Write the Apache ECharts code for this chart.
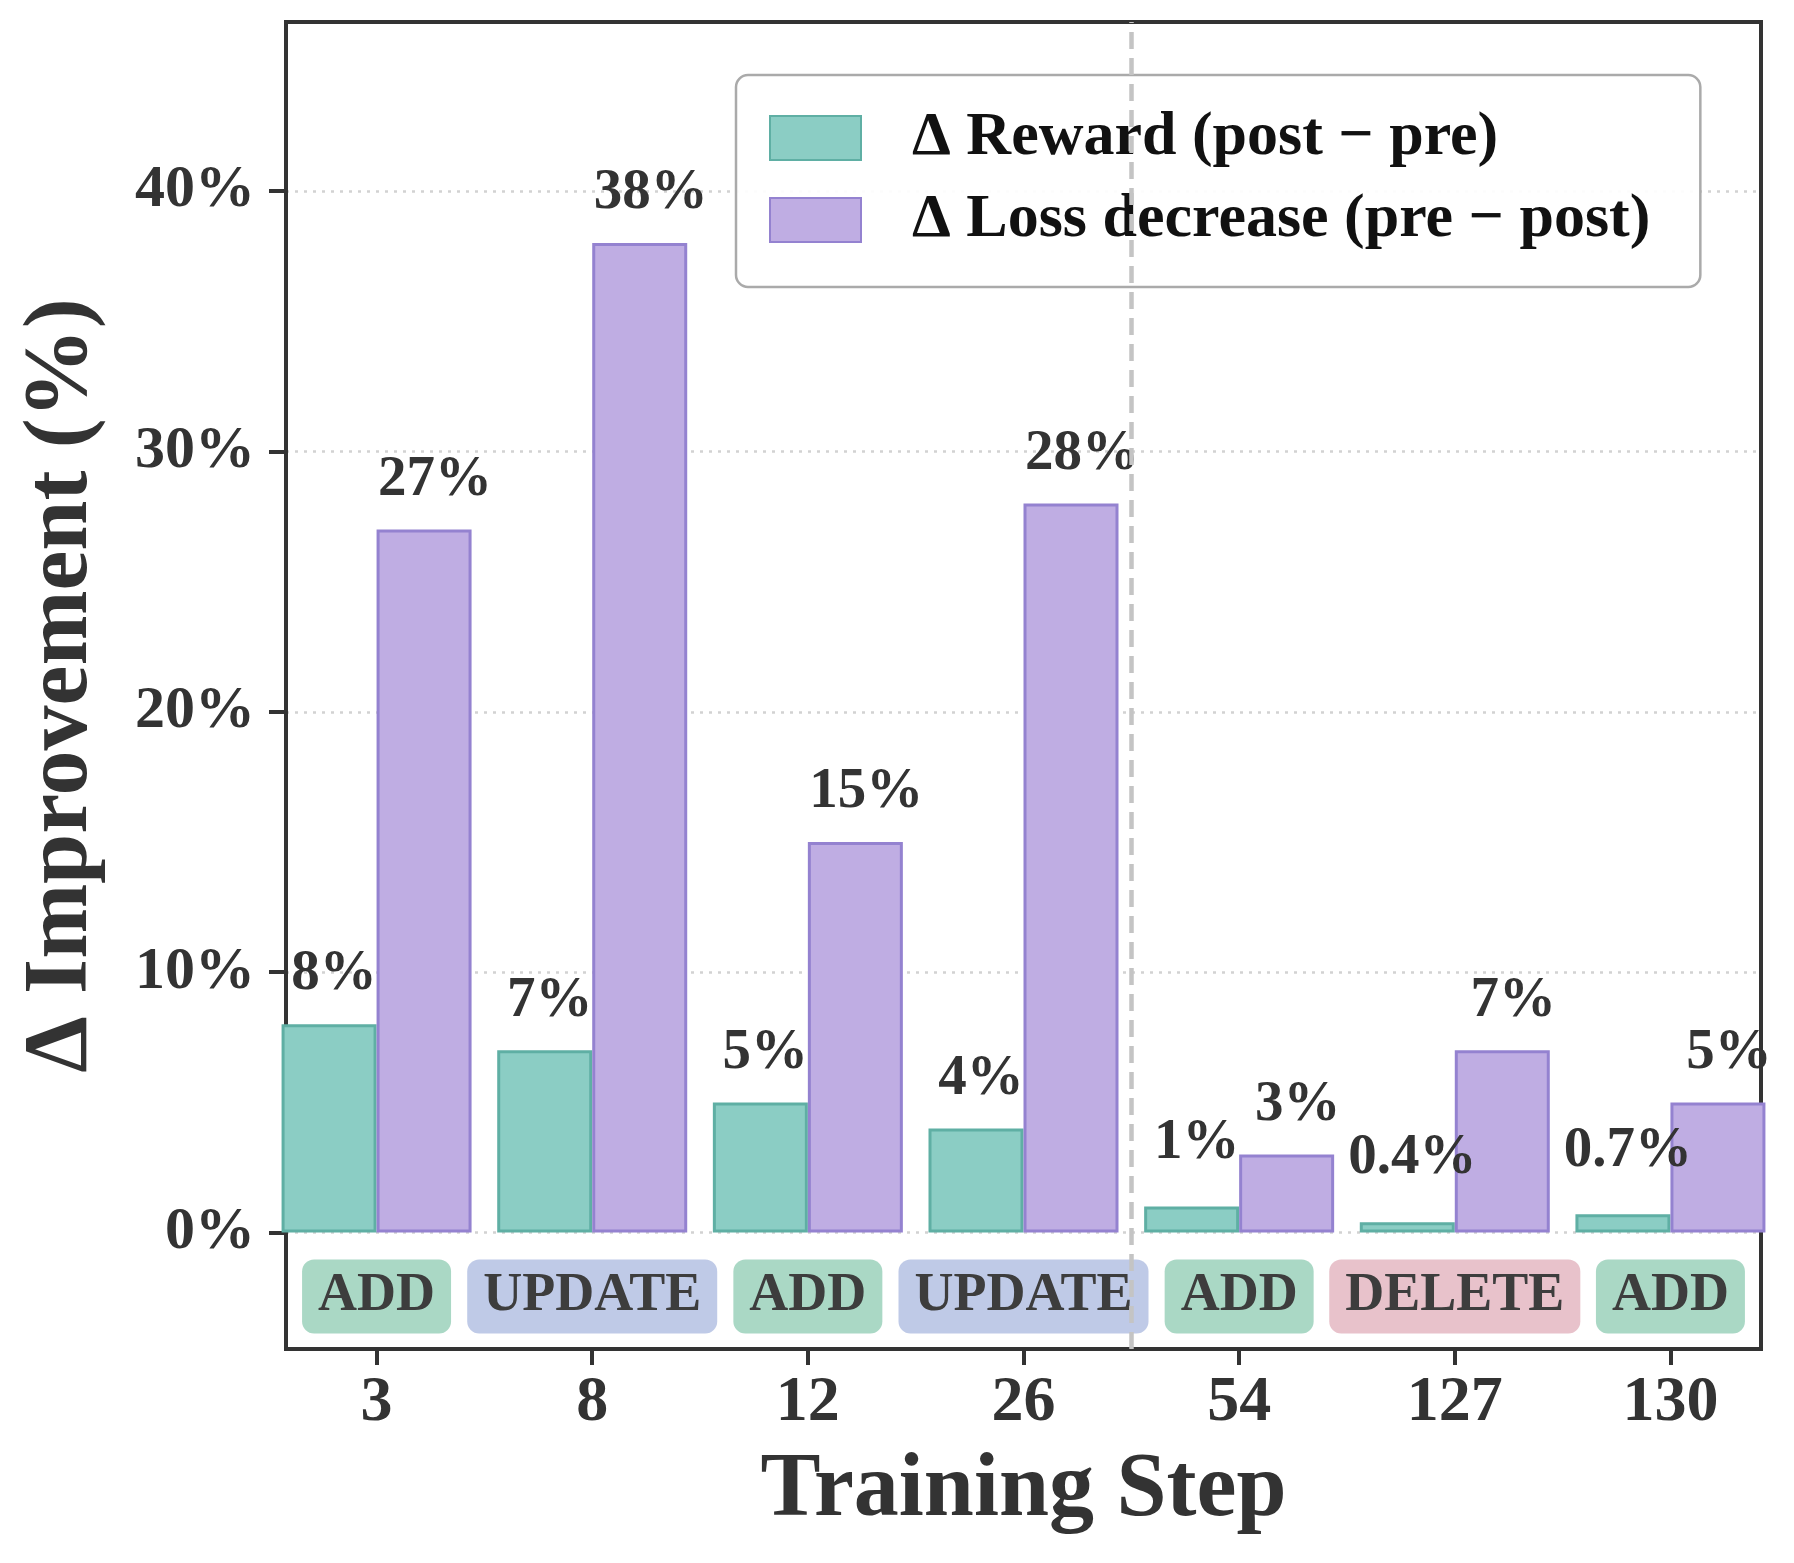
<!DOCTYPE html>
<html>
<head>
<meta charset="utf-8">
<title>Δ Improvement per training step</title>
<script src="https://cdn.jsdelivr.net/npm/echarts@6/dist/echarts.min.js"></script>
<style>
  html, body { margin: 0; padding: 0; background: #fff; }
  #main { width: 1794px; height: 1563px; }
</style>
</head>
<body>
<div id="main"></div>
<script>
// 数据：训练步数 + 两组提升
const steps = ['3', '8', '12', '26', '54', '127', '130']
const rewardDelta = [8, 7, 5, 4, 1, 0.4, 0.7]
const lossDelta = [27, 38, 15, 28, 3, 7, 5]
// 每一步的记忆操作
const ops = ['ADD', 'UPDATE', 'ADD', 'UPDATE', 'ADD', 'DELETE', 'ADD']
const yTicks = [0, 10, 20, 30, 40]
// 分隔线位置（26 与 54 之间）
const phaseSplit = 3.5
// 操作标签所在的 y 值（0 以下那一行）
const opRowY = -2.45

const FONT = "'Liberation Serif', 'Times New Roman', serif"
const INK = '#333'
const opColors = { ADD: '#aad8c5', UPDATE: '#bfcae7', DELETE: '#e8c2cb' }
const rewardName = 'Δ Reward (post − pre)'
const lossName = 'Δ Loss decrease (pre − post)'

var myChart = echarts.init(document.getElementById('main'))

// 柱顶数值标签
function valueLabel(dx) {
    return {
        show: true,
        position: 'top',
        offset: [dx, 0],
        fontFamily: FONT,
        fontWeight: 'bold',
        fontSize: 57,
        lineHeight: 57,
        color: INK,
        formatter: p => p.value[1] + '%'
    }
}

// 柱子数据 [x, y]，x 用步数下标；小柱子标签离得远一些
function barData(arr) {
    return arr.map((v, i) => ({
        value: [i, v],
        label: { distance: v <= 1 ? 35 : 21 }
    }))
}

var option = {
    animation: false,
    backgroundColor: '#fff',
    grid: {
        left: 286, right: 33, top: 22, bottom: 214,
        show: true,
        borderColor: INK,
        borderWidth: 4,
        backgroundColor: 'transparent'
    },
    legend: {
        data: [rewardName, lossName],
        orient: 'vertical',
        left: 736,
        top: 75,
        icon: 'rect',
        itemWidth: 91,
        itemHeight: 44,
        itemGap: 20,
        padding: [32, 50, 36, 33],
        backgroundColor: 'rgba(255,255,255,0.92)',
        borderColor: '#aaa',
        borderWidth: 2.5,
        borderRadius: 12,
        textStyle: {
            fontFamily: FONT,
            fontWeight: 'bold',
            fontSize: 62,
            lineHeight: 62,
            color: '#111',
            padding: [0, 0, 0, 46]
        }
    },
    xAxis: {
        type: 'value',
        min: -0.42,
        max: 6.42,
        name: 'Training Step',
        nameLocation: 'middle',
        nameGap: 98,
        nameTextStyle: { fontFamily: FONT, fontWeight: 'bold', fontSize: 90, color: INK },
        axisLine: { onZero: false, lineStyle: { color: INK, width: 4 } },
        axisTick: { customValues: [0, 1, 2, 3, 4, 5, 6], length: 16, lineStyle: { color: INK, width: 4 } },
        axisLabel: {
            customValues: [0, 1, 2, 3, 4, 5, 6],
            formatter: v => steps[Math.round(v)],
            margin: 22,
            fontFamily: FONT, fontWeight: 'bold', fontSize: 64, color: INK
        },
        splitLine: { show: false }
    },
    yAxis: {
        type: 'value',
        min: -4.47,
        max: 46.49,
        name: 'Δ Improvement (%)',
        nameLocation: 'middle',
        nameGap: 178,
        nameTextStyle: { fontFamily: FONT, fontWeight: 'bold', fontSize: 90, color: INK },
        axisLine: { onZero: false, lineStyle: { color: INK, width: 4 } },
        axisTick: { customValues: yTicks, length: 17, lineStyle: { color: INK, width: 4 } },
        axisLabel: {
            customValues: yTicks,
            formatter: v => v + '%',
            margin: 31,
            fontFamily: FONT, fontWeight: 'bold', fontSize: 60, color: INK
        },
        splitLine: {
            show: true,
            lineStyle: { color: '#d2d2d2', width: 2.5, type: [3, 6] }
        }
    },
    series: [
        {
            name: rewardName,
            type: 'bar',
            barWidth: 95,
            barGap: '0%',
            itemStyle: { color: '#8bcdc4', borderColor: '#5fafa4', borderWidth: 3 },
            label: valueLabel(5),
            data: barData(rewardDelta)
        },
        {
            name: lossName,
            type: 'bar',
            barWidth: 95,
            barGap: '0%',
            itemStyle: { color: '#bfade3', borderColor: '#9482d0', borderWidth: 3 },
            label: valueLabel(11),
            data: barData(lossDelta)
        },
        {
            // 操作类型小标签 + 阶段分隔虚线
            name: 'ops',
            type: 'scatter',
            symbolSize: 0,
            silent: true,
            itemStyle: { opacity: 1 },
            label: {
                show: true,
                position: 'inside',
                fontFamily: FONT,
                fontWeight: 'bold',
                fontSize: 54,
                lineHeight: 52,
                color: '#3d3d3d',
                padding: [11, 16],
                borderRadius: 12,
                formatter: p => ops[p.dataIndex]
            },
            data: ops.map((op, i) => ({
                value: [i, opRowY],
                label: { backgroundColor: opColors[op] }
            })),
            markLine: {
                silent: true,
                symbol: 'none',
                label: { show: false },
                lineStyle: { color: '#c4c4c4', width: 4.5, type: [17, 9] },
                data: [{ xAxis: phaseSplit }]
            }
        }
    ]
}

option && myChart.setOption(option)
</script>
</body>
</html>
